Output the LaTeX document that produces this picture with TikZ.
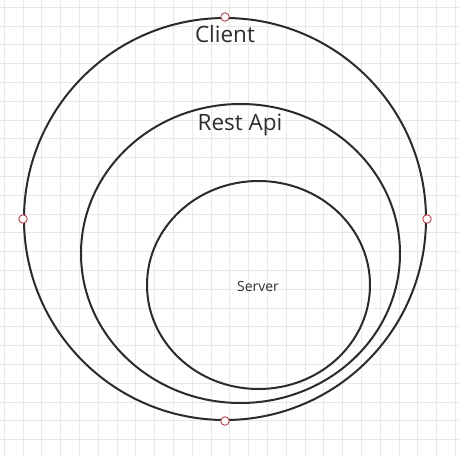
\documentclass[tikz,border=0pt]{standalone}
\usepackage{fontspec}
\setmainfont{Open Sans}
\usetikzlibrary{shapes.geometric}
\definecolor{gridc}{HTML}{E8E8E8}
\definecolor{linec}{HTML}{2B2B2B}
\definecolor{markc}{HTML}{B5474F}
\definecolor{textc}{HTML}{2E2E2E}
\tikzset{
  ring/.style={draw=linec, line width=2pt, fill=none, ellipse, inner sep=0pt},
  handle/.style={circle, draw=markc, fill=white, line width=0.9pt, minimum size=8.5pt, inner sep=0pt},
  lbl/.style={text=textc, inner sep=0pt}
}
\begin{document}
\begin{tikzpicture}[x=1pt,y=-1pt]
\useasboundingbox (0,0) rectangle (459,456);
\fill[white] (0,0) rectangle (459,456);
\foreach \i in {0,...,25} {
  \draw[gridc, line width=0.6pt] ({4+18.8*\i},0) -- ({4+18.8*\i},456);
  \draw[gridc, line width=0.6pt] (0,{7+18.8*\i}) -- (459,{7+18.8*\i});
}
\node[ring, minimum width=402pt, minimum height=402pt] (client) at (225,219) {};
\node[ring, minimum width=319pt, minimum height=299pt] (rest) at (240.5,253.5) {};
\node[ring, minimum width=223pt, minimum height=208pt] (server) at (258.5,285) {};
\node[lbl, font=\fontsize{22.5}{24}\selectfont, anchor=base] (tclient) at (225,42) {Client};
\node[lbl, font=\fontsize{22.5}{24}\selectfont, anchor=base] (trest) at (240,130) {Rest Api};
\node[lbl, font=\fontsize{14}{16}\selectfont] (tserver) at (258,286) {Server};
\node[handle] (hn) at (client.north) {};
\node[handle] (hw) at (client.west) {};
\node[handle] (he) at (client.east) {};
\node[handle] (hs) at (client.south) {};
\end{tikzpicture}
\end{document}
